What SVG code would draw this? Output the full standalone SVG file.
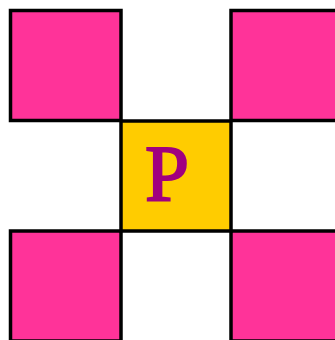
<svg xmlns="http://www.w3.org/2000/svg" width="335" height="340" viewBox="0 0 335 340">
<style>
.c{stroke:#000;stroke-width:3.5}
.pink{fill:#FF3399}
.yel{fill:#FFCC00}
.t{font-family:"Liberation Serif","Times New Roman",serif;font-size:80px;fill:#A0007F;stroke:#A0007F;stroke-width:2}
</style>
<rect width="335" height="340" fill="#fff"/>
<g id="tl"><rect class="c pink" x="10.5" y="10.5" width="110.5" height="110"/></g>
<g id="tr"><rect class="c pink" x="231" y="10.5" width="110" height="110"/></g>
<g id="bl"><rect class="c pink" x="10.5" y="231" width="110.5" height="110"/></g>
<g id="br"><rect class="c pink" x="231" y="231" width="110" height="110"/></g>
<g id="center"><rect class="c yel" x="121" y="121" width="110" height="110"/>
<text class="t" x="145" y="201" textLength="44" lengthAdjust="spacingAndGlyphs">P</text></g>
</svg>
